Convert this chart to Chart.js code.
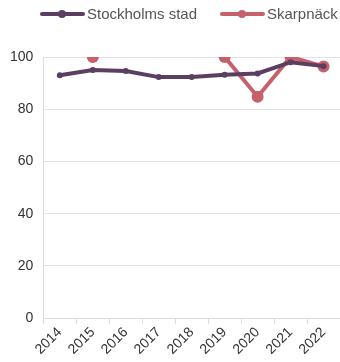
<!DOCTYPE html>
<html>
<head>
<meta charset="utf-8">
<script src="https://cdn.jsdelivr.net/npm/chart.js@4"></script>
<style>
  html, body { margin: 0; padding: 0; background: #fff; }
  #wrap { width: 340px; height: 362px; position: relative; }
</style>
</head>
<body>
<div id="wrap"><canvas id="myChart"></canvas></div>
<script>
const years = ['2014', '2015', '2016', '2017', '2018', '2019', '2020', '2021', '2022'];
const stockholm = [93, 95, 94.6, 92.3, 92.3, 93.2, 93.7, 98, 96.5];
const skarpnack = [null, 100, null, null, null, 100, 84.8, 100, 96.4];
const yTicks = [0, 20, 40, 60, 80, 100];

const purple = '#5c3e63';
const rose = '#c6606b';

// legend drawn by hand: line + dot + text
const lineLegend = {
    id: 'lineLegend',
    afterDraw(chart) {
        const ctx = chart.ctx;
        const starts = [40, 220];
        ctx.save();
        chart.data.datasets.forEach((ds, i) => {
            const x = starts[i];
            const y = 14;
            ctx.strokeStyle = ds.borderColor;
            ctx.lineWidth = 4;
            ctx.lineCap = 'round';
            ctx.beginPath();
            ctx.moveTo(x + 2, y);
            ctx.lineTo(x + 43, y);
            ctx.stroke();
            ctx.fillStyle = ds.borderColor;
            ctx.beginPath();
            ctx.arc(x + 22, y, 4, 0, Math.PI * 2);
            ctx.fill();
            ctx.fillStyle = '#555';
            ctx.font = '15px "Liberation Sans"';
            ctx.textBaseline = 'middle';
            ctx.textAlign = 'left';
            ctx.fillText(ds.label, x + 47, y + 1);
        });
        ctx.restore();
    }
};

new Chart(document.getElementById('myChart'), {
    type: 'line',
    data: {
        labels: years,
        datasets: [{
            label: 'Stockholms stad',
            data: stockholm,
            borderColor: purple,
            backgroundColor: purple,
            borderWidth: 4,
            pointRadius: 3,
            pointBorderWidth: 0,
            tension: 0
        }, {
            label: 'Skarpnäck',
            data: skarpnack,
            borderColor: rose,
            backgroundColor: rose,
            borderWidth: 4,
            pointRadius: 6,
            pointBorderWidth: 0,
            tension: 0
        }]
    },
    options: {
        responsive: true,
        maintainAspectRatio: false,
        animation: false,
        layout: { autoPadding: false, padding: { top: 57, right: 0, left: 0, bottom: 4 } },
        plugins: {
            legend: { display: false },
            tooltip: { enabled: false }
        },
        scales: {
            x: {
                offset: true,
                grid: { display: true, drawOnChartArea: false, tickLength: 6, color: '#ddd', offset: true },
                border: { color: '#ddd' },
                ticks: {
                    color: '#333',
                    font: { family: 'Liberation Sans', size: 14 },
                    maxRotation: 45,
                    minRotation: 45,
                    padding: 0
                }
            },
            y: {
                min: 0,
                max: 100,
                afterBuildTicks(scale) {
                    scale.ticks = yTicks.map(v => ({ value: v }));
                },
                grid: { color: '#e3e3e3', drawTicks: false },
                border: { color: '#ddd' },
                ticks: {
                    color: '#333',
                    padding: 10,
                    font: { family: 'Liberation Sans', size: 14 }
                }
            }
        }
    },
    plugins: [lineLegend]
});
</script>
</body>
</html>
